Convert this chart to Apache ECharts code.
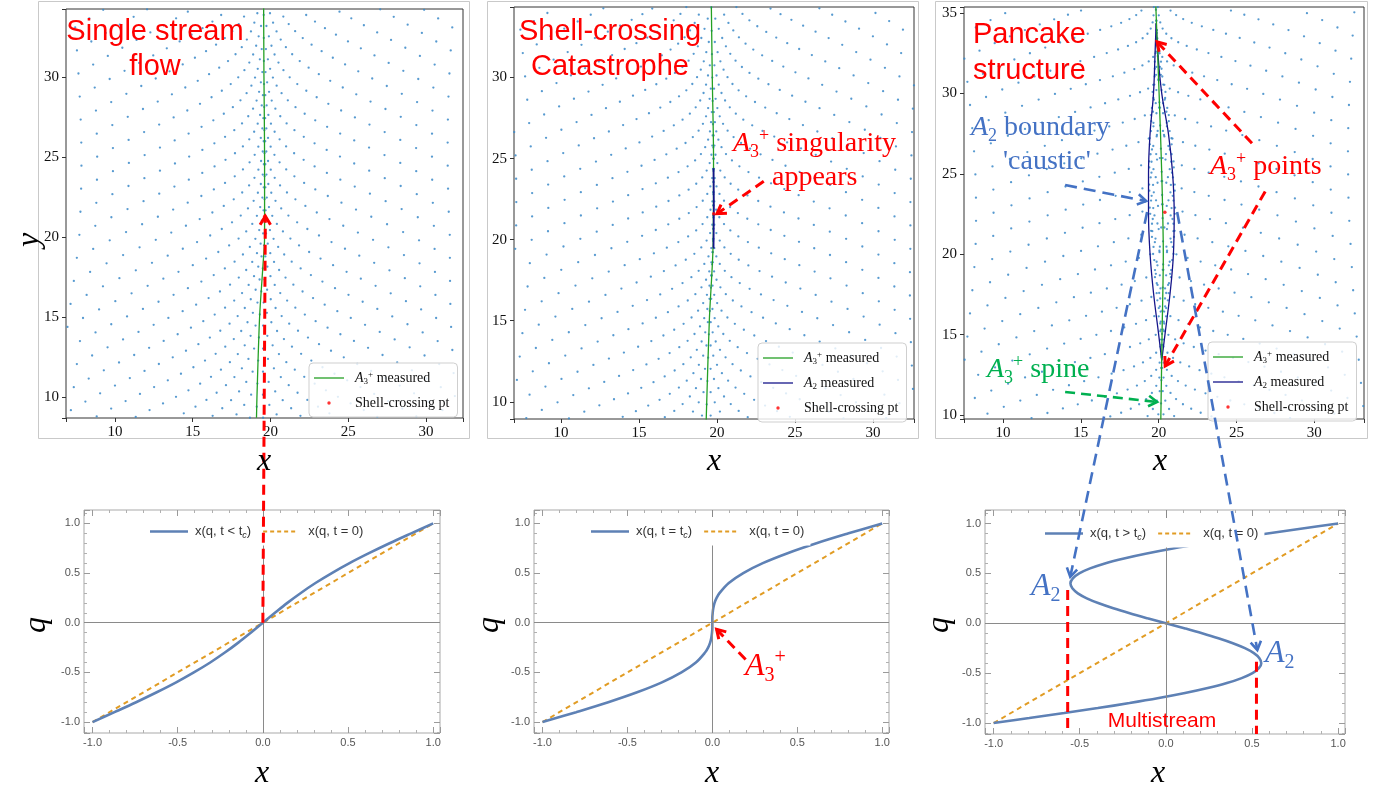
<!DOCTYPE html>
<html>
<head>
<meta charset="utf-8">
<title>Shell crossing and caustic formation</title>
<script src="https://cdn.jsdelivr.net/npm/echarts@6.0.0/dist/echarts.min.js"></script>
<style>
  html, body { margin: 0; padding: 0; background: #ffffff; }
  #chart { width: 1382px; height: 789px; }
</style>
</head>
<body>
<div id="chart"></div>
<script>
// ================= Upper row: particle snapshots =================
// Axis ranges of the three snapshots
const topX = [[6.85, 32.38], [6.99, 32.63], [7.49, 33.2]];
const topY = [[8.69, 34.25], [8.94, 34.35], [9.75, 35.37]];

// A3+ ridge traced in each snapshot, [x, y]
const spineEarly = [[19.10, 8.7], [19.13, 10], [19.30, 15], [19.50, 18], [19.62, 20], [19.62, 25], [19.58, 30], [19.56, 34.3]];
const spineCross = [[19.31, 8.9], [19.51, 15], [19.76, 20], [19.78, 25], [19.70, 30], [19.64, 34.4]];
const spineLate  = [[20.14, 9.7], [20.22, 15], [20.30, 20], [20.20, 25], [20.03, 30], [19.82, 35.4]];
const spines = [spineEarly, spineCross, spineLate];

// A2 fold lines
const foldCross = [[19.78, 24.4], [19.80, 22.0], [19.78, 19.45]];
const foldLateLeft  = [[19.84, 34.36], [19.77, 32.5], [19.67, 30.0], [19.45, 27.5], [19.35, 25.0], [19.35, 22.5], [19.45, 20.0], [19.67, 17.6], [19.99, 15.1], [20.20, 13.4]];
const foldLateRight = [[19.84, 34.36], [19.95, 32.5], [20.20, 30.0], [20.63, 27.5], [20.90, 25.0], [21.00, 22.5], [20.95, 20.0], [20.74, 17.6], [20.42, 15.1], [20.20, 13.4]];

// First shell-crossing point of each snapshot
const shellCrossPts = [[19.63, 21.3], [19.79, 21.6], [20.40, 22.6]];

// Lagrangian lattice and its collapse towards the ridge
const latticeStep = 0.72;               // diagonal lattice step
const foldPeak    = [0.94, 1.02, 1.40]; // peak collapse amplitude (1 = shell crossing)
const foldPeakY   = [25.0, 21.9, 23.9];
const foldSpanY   = [18, 18, 18];
const kernelWidth = 7;
const sagDepth    = [5.0, 6.0, 8.0];

// ================= Lower row: 1D mapping x(q) =================
const lowX = [-1.05, 1.04];
const lowY = [-1.11, 1.135];
const diagonal = [[-1, -1], [1, 1]];

const qBefore = [-1, -0.9, -0.8, -0.7, -0.6, -0.5, -0.4, -0.3, -0.2, -0.1, 0, 0.1, 0.2, 0.3, 0.4, 0.5, 0.6, 0.7, 0.8, 0.9, 1];
const xBefore = [-1, -0.871, -0.744, -0.623, -0.509, -0.405, -0.309, -0.223, -0.144, -0.071, 0, 0.071, 0.144, 0.223, 0.309, 0.405, 0.509, 0.623, 0.744, 0.871, 1];

const qCrossing = [-1, -0.9, -0.8, -0.7, -0.6, -0.5, -0.4, -0.3, -0.25, -0.2, -0.15, -0.1, -0.05, 0, 0.05, 0.1, 0.15, 0.2, 0.25, 0.3, 0.4, 0.5, 0.6, 0.7, 0.8, 0.9, 1];
const xCrossing = [-1, -0.802, -0.613, -0.443, -0.297, -0.182, -0.097, -0.043, -0.025, -0.013, -0.006, -0.002, 0, 0, 0, 0.002, 0.006, 0.013, 0.025, 0.043, 0.097, 0.182, 0.297, 0.443, 0.613, 0.802, 1];

const qAfter = [-1, -0.95, -0.9, -0.85, -0.8, -0.75, -0.7, -0.65, -0.6, -0.55, -0.5, -0.45, -0.4, -0.35, -0.3, -0.25, -0.2, -0.15, -0.1, -0.05, 0,
                0.05, 0.1, 0.15, 0.2, 0.25, 0.3, 0.35, 0.4, 0.45, 0.5, 0.55, 0.6, 0.65, 0.7, 0.75, 0.8, 0.85, 0.9, 0.95, 1];
const xAfter = [-1, -0.793, -0.590, -0.395, -0.211, -0.041, 0.111, 0.243, 0.354, 0.440, 0.503, 0.540, 0.554, 0.543, 0.511, 0.459, 0.389, 0.305, 0.210, 0.107, 0,
                -0.107, -0.210, -0.305, -0.389, -0.459, -0.511, -0.543, -0.554, -0.540, -0.503, -0.440, -0.354, -0.243, -0.111, 0.041, 0.211, 0.395, 0.590, 0.793, 1];

// Positions of the two A2 folds where the multistream band starts
const multistreamEdges = [[-0.57, 0.334], [0.526, -0.385]];

// ================= colours =================
const GREEN = '#24a024', NAVY = '#15158a', DOT = '#3a88c8', RED = '#ff0000';
const MBLUE = '#5e81b5', MORANGE = '#e19c24';
const ANN_BLUE = '#4472c4', ANN_GREEN = '#00b050';

// ================= helpers =================
function pairs(xs, ys) { return xs.map((x, i) => [x, ys[i]]); }

function spineAt(sp, y) {
  if (y <= sp[0][1]) return sp[0][0];
  for (let i = 1; i < sp.length; i++) {
    if (y <= sp[i][1]) {
      const t = (y - sp[i - 1][1]) / (sp[i][1] - sp[i - 1][1]);
      return sp[i - 1][0] + t * (sp[i][0] - sp[i - 1][0]);
    }
  }
  return sp[sp.length - 1][0];
}

// Diagonal Lagrangian lattice pushed towards the ridge of snapshot k
function particles(k) {
  const sp = spines[k], xr = topX[k], yr = topY[k];
  const d = latticeStep, out = [];
  const nLo = Math.floor((yr[0] - 2) / d), nHi = Math.ceil((yr[1] + sagDepth[k] + 2) / d);
  for (let n = nLo; n <= nHi; n++) {
    for (let m = -34; m <= 34; m++) {
      if ((((m + n) % 2) + 2) % 2) continue;
      const u = m * d;
      const g = Math.exp(-u * u / (2 * kernelWidth * kernelWidth));
      const y = n * d - sagDepth[k] * g;
      const amp = foldPeak[k] * Math.exp(-Math.pow((y - foldPeakY[k]) / foldSpanY[k], 2));
      const x = spineAt(sp, y) + u - amp * u * g;
      if (x > xr[0] && x < xr[1] && y > yr[0] && y < yr[1]) out.push([x, y]);
    }
  }
  return out;
}

// legend icons: invisible corner points fix the icon box, the visible part sits inside
const ICON_LINE = 'path://M0,0L0,0M36,12L36,12M0,5.35L30,5.35L30,6.65L0,6.65Z';
const ICON_DOT = 'path://M0,0L0,0M36,12L36,12M13.3,6a1.7,1.7 0 1,0 3.4,0a1.7,1.7 0 1,0 -3.4,0Z';
const ICON_MLINE = 'path://M0,0L0,0M40,10L40,10M0,3.75L38,3.75L38,6.25L0,6.25Z';
let dashPath = 'path://M0,0L0,0M40,10L40,10';
for (let x = 0; x < 35; x += 7) dashPath += 'M' + x + ',4L' + (x + 4) + ',4L' + (x + 4) + ',6L' + x + ',6Z';
const ICON_MDASH = dashPath;

// ================= grids & axes =================
const grids = [
  { left: 66, top: 9, width: 397, height: 409 },
  { left: 514, top: 7, width: 400, height: 412 },
  { left: 964, top: 7, width: 400, height: 412 },
  { left: 84, top: 510, width: 356, height: 223 },
  { left: 534, top: 510, width: 355, height: 223 },
  { left: 985, top: 510, width: 360, height: 224 }
].map((g, i) => Object.assign(g, {
  show: true, containLabel: false, backgroundColor: 'transparent',
  borderColor: i < 3 ? '#333333' : '#a9a9a9', borderWidth: 1
}));

function topAxis(k, range) {
  return {
    gridIndex: k, type: 'value', min: range[0], max: range[1], splitNumber: 5,
    axisLine: { show: false, onZero: false }, splitLine: { show: false },
    axisTick: { show: true, length: 4, lineStyle: { color: '#333', width: 1 } },
    axisLabel: {
      fontFamily: 'Liberation Serif', fontSize: 15, color: '#111', margin: 7,
      formatter: v => (Math.abs(v % 5) < 1e-6 ? String(v) : '')
    }
  };
}
function lowAxis(g, range, pos, labels) {
  return {
    gridIndex: g, type: 'value', min: range[0], max: range[1], position: pos, splitNumber: 5,
    axisLine: { show: false, onZero: false }, splitLine: { show: false },
    axisTick: { show: true, inside: true, length: 6, lineStyle: { color: '#9a9a9a', width: 1 } },
    minorTick: { show: true, splitNumber: 5, length: 3, lineStyle: { color: '#b0b0b0', width: 1 } },
    axisLabel: {
      show: labels, fontFamily: 'Liberation Sans', fontSize: 11, color: '#555', margin: 4,
      formatter: v => (Math.abs(v * 2 - Math.round(v * 2)) < 1e-6 ? v.toFixed(1) : '')
    }
  };
}

const xAxis = [], yAxis = [];
for (let k = 0; k < 3; k++) { xAxis.push(topAxis(k, topX[k])); yAxis.push(topAxis(k, topY[k])); }
for (let k = 0; k < 3; k++) { xAxis.push(lowAxis(3 + k, lowX, 'bottom', true)); yAxis.push(lowAxis(3 + k, lowY, 'left', true)); }
for (let k = 0; k < 3; k++) { xAxis.push(lowAxis(3 + k, lowX, 'top', false)); yAxis.push(lowAxis(3 + k, lowY, 'right', false)); }

// ================= series =================
const series = [];
for (let k = 0; k < 3; k++) {
  series.push({
    type: 'scatter', name: 'particles', xAxisIndex: k, yAxisIndex: k, data: particles(k),
    symbolSize: 2.3, itemStyle: { color: DOT, opacity: 0.85 }, silent: true, z: 1
  });
  series.push({
    type: 'line', name: 'A3+ measured', xAxisIndex: k, yAxisIndex: k, data: spines[k],
    symbol: 'none', smooth: 0.3, lineStyle: { color: GREEN, width: 1.3 }, itemStyle: { color: GREEN }, z: 3, silent: true
  });
}
series.push({ type: 'line', name: 'A2 measured', xAxisIndex: 1, yAxisIndex: 1, data: foldCross, symbol: 'none', lineStyle: { color: NAVY, width: 1.8 }, itemStyle: { color: NAVY }, z: 3, silent: true });
[foldLateLeft, foldLateRight].forEach(f => series.push({
  type: 'line', name: 'A2 measured', xAxisIndex: 2, yAxisIndex: 2, data: f, symbol: 'none', smooth: 0.4,
  lineStyle: { color: NAVY, width: 1.3 }, itemStyle: { color: NAVY }, z: 2, silent: true
}));
for (let k = 0; k < 3; k++) {
  series.push({
    type: 'scatter', name: 'Shell-crossing pt', xAxisIndex: k, yAxisIndex: k, data: [shellCrossPts[k]],
    symbolSize: 3.5, itemStyle: { color: RED }, z: 3, silent: true
  });
}

const profiles = [
  { name: 'x(q, t < tc)', data: pairs(xBefore, qBefore) },
  { name: 'x(q, t = tc)', data: pairs(xCrossing, qCrossing) },
  { name: 'x(q, t > tc)', data: pairs(xAfter, qAfter) }
];
profiles.forEach((p, k) => {
  series.push({
    type: 'line', name: 'x(q, t = 0)', xAxisIndex: 3 + k, yAxisIndex: 3 + k, data: diagonal,
    symbol: 'none', lineStyle: { color: MORANGE, width: 2, type: [5, 4] }, itemStyle: { color: MORANGE }, z: 2, silent: true,
    markLine: {
      silent: true, symbol: 'none', label: { show: false }, animation: false,
      lineStyle: { color: '#8a8a8a', width: 1, type: 'solid' },
      emphasis: { disabled: true },
      data: [{ xAxis: 0 }, { yAxis: 0 }]
    }
  });
  series.push({
    type: 'line', name: p.name, xAxisIndex: 3 + k, yAxisIndex: 3 + k, data: p.data,
    symbol: 'none', smooth: 0.35, lineStyle: { color: MBLUE, width: 2.6 }, itemStyle: { color: MBLUE }, z: 2, silent: true
  });
});

// ================= legends =================
const serif = 'Liberation Serif', sans = 'Liberation Sans';
const topRich = {
  a: { fontFamily: serif, fontStyle: 'italic', fontSize: 14, lineHeight: 16, color: '#111' },
  s: { fontFamily: serif, fontSize: 9, lineHeight: 9, verticalAlign: 'bottom', color: '#111' },
  p: { fontFamily: serif, fontSize: 9, lineHeight: 9, verticalAlign: 'top', color: '#111' },
  t: { fontFamily: serif, fontSize: 14, lineHeight: 16, color: '#111' }
};
const topLabels = {
  'A3+ measured': '{a|A}{s|3}{p|+}{t| measured}',
  'A2 measured': '{a|A}{s|2}{t| measured}',
  'Shell-crossing pt': '{t|Shell-crossing pt}'
};
function topLegend(left, top, names) {
  return {
    orient: 'vertical', left: left, top: top, padding: [7, 8, 7, 5], itemGap: 10,
    itemWidth: 36, itemHeight: 12, selectedMode: false, z: 10,
    backgroundColor: 'rgba(255,255,255,0.82)', borderColor: '#cfcfcf', borderWidth: 1, borderRadius: 4,
    itemStyle: { borderWidth: 0 },
    textStyle: { fontFamily: serif, fontSize: 14, color: '#111', rich: topRich },
    formatter: n => topLabels[n] || n,
    data: names.map(n => ({ name: n, icon: n === 'Shell-crossing pt' ? ICON_DOT : ICON_LINE }))
  };
}
const lowRich = {
  t: { fontFamily: sans, fontSize: 13, lineHeight: 16, color: '#333' },
  s: { fontFamily: sans, fontSize: 9, fontStyle: 'italic', lineHeight: 9, verticalAlign: 'bottom', color: '#333' }
};
const lowLabels = {
  'x(q, t < tc)': '{t|x(q, t < t}{s|c}{t|)}',
  'x(q, t = tc)': '{t|x(q, t = t}{s|c}{t|)}',
  'x(q, t > tc)': '{t|x(q, t > t}{s|c}{t|)}',
  'x(q, t = 0)': '{t|x(q, t = 0)}'
};
function lowLegend(left, top, padTop, name) {
  return {
    orient: 'horizontal', left: left, top: top, padding: [padTop, 6, 6, 6], itemGap: 12,
    itemWidth: 40, itemHeight: 10, selectedMode: false, backgroundColor: '#ffffff', z: 10,
    itemStyle: { borderWidth: 0 },
    textStyle: { fontFamily: sans, fontSize: 13, color: '#333', rich: lowRich },
    formatter: n => lowLabels[n] || n,
    data: [{ name: name, icon: ICON_MLINE }, { name: 'x(q, t = 0)', icon: ICON_MDASH }]
  };
}
const legend = [
  topLegend(309, 363, ['A3+ measured', 'Shell-crossing pt']),
  topLegend(758, 343, ['A3+ measured', 'A2 measured', 'Shell-crossing pt']),
  topLegend(1208, 342, ['A3+ measured', 'A2 measured', 'Shell-crossing pt']),
  lowLegend(144, 517, 8, 'x(q, t < tc)'),
  lowLegend(585, 517, 8, 'x(q, t = tc)'),
  lowLegend(1039, 518, 9, 'x(q, t > tc)')
];

const chart = echarts.init(document.getElementById('chart'), null, { width: 1382, height: 789 });
chart.setOption({
  animation: false,
  backgroundColor: '#ffffff',
  grid: grids, xAxis: xAxis, yAxis: yAxis, legend: legend, series: series
});

// ================= annotations =================
const redArrows = [
  [[3, [0, 0]], [0, [19.67, 21.3]]],
  [[1, [23.0, 23.6]], [1, [20.0, 21.6]]],
  [[2, [26.0, 26.9]], [2, [19.9, 33.2]]],
  [[2, [26.85, 23.9]], [2, [20.42, 13.05]]],
  [[4, [0.196, -0.37]], [4, [0.025, -0.067]]]
];
const blueArrows = [
  [[2, [13.99, 24.3]], [2, [19.2, 23.3]]],
  [[2, [19.26, 22.62]], [5, [-0.555, 0.465]]],
  [[2, [21.19, 22.62]], [5, [0.531, -0.268]]]
];
const greenArrows = [
  [[2, [13.99, 11.43]], [2, [19.9, 10.81]]]
];

function toPx(ref) { return chart.convertToPixel({ gridIndex: ref[0] }, ref[1]); }

function arrow(a, b, color, width, dash, head) {
  const els = [{
    type: 'line', silent: true, z: 60,
    shape: { x1: a[0], y1: a[1], x2: b[0], y2: b[1] },
    style: { stroke: color, lineWidth: width, lineDash: dash, fill: null }
  }];
  if (head) {
    const ang = Math.atan2(b[1] - a[1], b[0] - a[0]), spread = 0.55;
    const p1 = [b[0] - head * Math.cos(ang - spread), b[1] - head * Math.sin(ang - spread)];
    const p2 = [b[0] - head * Math.cos(ang + spread), b[1] - head * Math.sin(ang + spread)];
    els.push({
      type: 'polyline', silent: true, z: 61,
      shape: { points: [p1, b, p2] },
      style: { stroke: color, lineWidth: width, fill: null, lineJoin: 'miter' }
    });
  }
  return els;
}

function label(x, y, text, opts) {
  return Object.assign({
    type: 'text', x: x, y: y, silent: true, z: 70,
    style: Object.assign({
      text: text, fill: '#000', fontFamily: serif, fontSize: 30, align: 'center', verticalAlign: 'middle'
    }, opts.style || {})
  }, opts.el || {});
}

function aRich(size, color) {
  const small = Math.round(size * 0.64);
  return {
    a: { fontFamily: serif, fontStyle: 'italic', fontSize: size, lineHeight: size + 6, fill: color },
    s: { fontFamily: serif, fontSize: small, lineHeight: small, verticalAlign: 'bottom', fill: color },
    p: { fontFamily: serif, fontSize: small, lineHeight: small, verticalAlign: 'top', fill: color },
    t: { fontFamily: serif, fontSize: size, lineHeight: size + 6, fill: color }
  };
}

function buildGraphics() {
  const els = [];
  // outer frames of the three snapshots
  [[38.5, 1.5, 431, 437], [487.5, 1.5, 431, 437], [935.5, 1.5, 432, 437]].forEach(r => els.push({
    type: 'rect', silent: true, z: 0,
    shape: { x: r[0], y: r[1], width: r[2], height: r[3] },
    style: { fill: null, stroke: '#c9c9c9', lineWidth: 1 }
  }));

  // axis titles
  const axisFont = { fontFamily: serif, fontStyle: 'italic', fontSize: 32, fill: '#000' };
  [[264, 462], [714, 462], [1160, 462], [262, 774], [712, 774], [1158, 774]].forEach(p =>
    els.push(label(p[0], p[1], 'x', { style: axisFont })));
  els.push(label(30, 240, 'y', { style: axisFont, el: { rotation: Math.PI / 2 } }));
  [[37, 625], [490, 625], [940, 625]].forEach(p =>
    els.push(label(p[0], p[1], 'q', { style: axisFont, el: { rotation: Math.PI / 2 } })));

  // panel headings
  const head = { fontFamily: sans, fontSize: 29, fill: RED };
  els.push(label(155, 32, 'Single stream', { style: head }));
  els.push(label(155, 67, 'flow', { style: head }));
  els.push(label(610, 32, 'Shell-crossing', { style: head }));
  els.push(label(610, 67, 'Catastrophe', { style: head }));
  els.push(label(973, 35, 'Pancake', { style: Object.assign({ align: 'left' }, head) }));
  els.push(label(973, 71, 'structure', { style: Object.assign({ align: 'left' }, head) }));

  // catastrophe labels
  els.push(label(733, 144, '{a|A}{s|3}{p|+}{t| singularity}', { style: { align: 'left', fill: RED, rich: aRich(28, RED) } }));
  els.push(label(772, 178, 'appears', { style: { align: 'left', fill: RED, fontSize: 28 } }));
  els.push(label(971, 128, '{a|A}{s|2}{t| boundary}', { style: { align: 'left', fill: ANN_BLUE, rich: aRich(28, ANN_BLUE) } }));
  els.push(label(1003, 162, '\'caustic\'', { style: { align: 'left', fill: ANN_BLUE, fontSize: 28 } }));
  els.push(label(1210, 167, '{a|A}{s|3}{p|+}{t| points}', { style: { align: 'left', fill: RED, rich: aRich(28, RED) } }));
  els.push(label(987, 370, '{a|A}{s|3}{p|+}{t| spine}', { style: { align: 'left', fill: ANN_GREEN, rich: aRich(28, ANN_GREEN) } }));
  els.push(label(745, 667, '{a|A}{s|3}{p|+}', { style: { align: 'left', fill: RED, rich: aRich(32, RED) } }));
  els.push(label(1031, 587, '{a|A}{s|2}', { style: { align: 'left', fill: ANN_BLUE, rich: aRich(32, ANN_BLUE) } }));
  els.push(label(1265, 654, '{a|A}{s|2}', { style: { align: 'left', fill: ANN_BLUE, rich: aRich(32, ANN_BLUE) } }));
  els.push(label(1162, 721, 'Multistream', { style: { fontFamily: sans, fontSize: 21, fill: RED } }));

  // arrows
  redArrows.forEach(a => els.push(...arrow(toPx(a[0]), toPx(a[1]), RED, 3, [10, 6], 10)));
  blueArrows.forEach(a => els.push(...arrow(toPx(a[0]), toPx(a[1]), ANN_BLUE, 2.6, [12, 7], 10)));
  greenArrows.forEach(a => els.push(...arrow(toPx(a[0]), toPx(a[1]), ANN_GREEN, 2.6, [10, 6], 10)));
  multistreamEdges.forEach(e => {
    els.push(...arrow(toPx([5, e]), toPx([5, [e[0], lowY[0]]]), RED, 3, [10, 6], 0));
  });
  return els;
}

chart.setOption({ graphic: { elements: buildGraphics() } });
</script>
</body>
</html>
